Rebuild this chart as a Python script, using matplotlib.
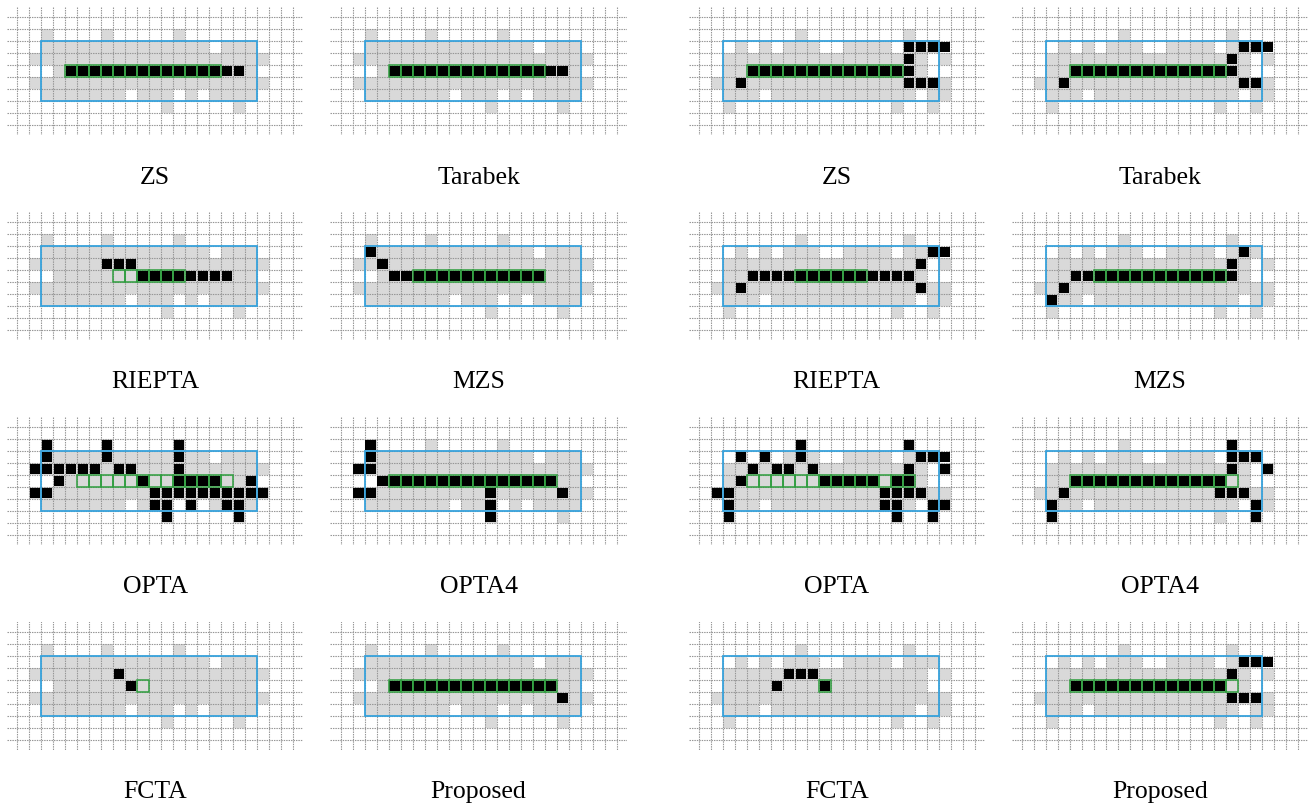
import matplotlib
matplotlib.use("Agg")
import matplotlib.pyplot as plt
from matplotlib.patches import Rectangle

W, H, DPI = 1310, 805, 100

# panel order: (row, col) in the 4x4 figure
methods = ["ZS", "Tarabek", "RIEPTA", "MZS", "OPTA", "OPTA4", "FCTA", "Proposed"]

# gray region masks (rows 0..8, cols 0..22)
gray_left = [
    ".......................",
    "..#....#.....#.........",
    "..##############.###...",
    ".####################..",
    "...#################...",
    ".####################..",
    "..#######.###.#.####...",
    "............#.....#....",
    ".......................",
]
gray_right = [
    ".......................",
    "........#........#.....",
    "...#.#.###..####.###...",
    "..#################.#..",
    "..#################....",
    ".####################..",
    "..###.############.##..",
    "..#.............#..#...",
    ".......................",
]

# result pixels: B = black, G = black + green outline, g = green outline only
res_left = {
    "ZS": {4: "....GGGGGGGGGGGGGBB...."},
    "Tarabek": {4: "....GGGGGGGGGGGGGBB...."},
    "RIEPTA": {3: ".......BBB.............",
               4: "........ggGGGGBBBB....."},
    "MZS": {2: "..B....................",
            3: "...B...................",
            4: "....BBGGGGGGGGGGG......"},
    "OPTA": {1: "..B....B.....B.........",
             2: "..B....B.....B.........",
             3: ".BBBBBB.BB...B.........",
             4: "...B.gggggGggGGGGg.B...",
             5: ".BB........BBBBBBBBBB..",
             6: "...........BB.B..BB....",
             7: "............B.....B...."},
    "OPTA4": {1: "..B....................",
              2: "..B....................",
              3: ".BB....................",
              4: "...BGGGGGGGGGGGGGG.....",
              5: ".BB.........B.....B....",
              6: "............B..........",
              7: "............B.........."},
    "FCTA": {3: "........B..............",
             4: ".........Bg............"},
    "Proposed": {4: "....GGGGGGGGGGGGGG.....",
                 5: "..................B...."},
}
res_right = {
    "ZS": {2: ".................BBBB..",
           3: ".................B.....",
           4: "....GGGGGGGGGGGGGB.....",
           5: "...B.............BBB..."},
    "Tarabek": {2: "..................BBB..",
                3: ".................B.....",
                4: "....GGGGGGGGGGGGGB.....",
                5: "...B..............BB..."},
    "RIEPTA": {2: "...................BB..",
               3: "..................B....",
               4: "....BBBBGGGGGGBBBB.....",
               5: "...B..............B...."},
    "MZS": {2: "..................B....",
            3: ".................B.....",
            4: "....BBGGGGGGGGGGGB.....",
            5: "...B...................",
            6: "..B...................."},
    "OPTA": {1: "........B........B.....",
             2: "...B.B..B.........BBB..",
             3: "....B.BB.B.......B..B..",
             4: "...BggggggGGGGGgGG.....",
             5: ".BB............BBBB....",
             6: "..B............BB..BB..",
             7: "..B.............B..B..."},
    "OPTA4": {1: ".................B.....",
              2: ".................BBB...",
              3: ".................B..B..",
              4: "....GGGGGGGGGGGGGg.....",
              5: "...B............BBB....",
              6: "..B................B...",
              7: "..B................B..."},
    "FCTA": {3: ".......BBB.............",
             4: "......B...G............"},
    "Proposed": {2: "..................BBB..",
                 3: ".................B.....",
                 4: "....GGGGGGGGGGGGGg.....",
                 5: ".................BBB..."},
}

GRAY = "#d9d9d9"
GRID = "#969696"
BLUE = "#36a2dc"
GREEN = "#2e9e3e"
CELL = 12.0
EXT = 0.85

col_x0 = [17.3, 340.6, 698.7, 1022.0]      # pixel x of grid line 0 for each panel column
row_y0 = [17.3, 222.1, 426.9, 631.7]        # pixel y of grid line 0 for each panel row

plt.rcParams["font.family"] = ["Liberation Serif", "DejaVu Serif"]
fig = plt.figure(figsize=(W / DPI, H / DPI), dpi=DPI)
fig.patch.set_facecolor("white")


def draw_panel(ax, gray, marks, label):
    ax.set_xlim(-EXT, 23 + EXT)
    ax.set_ylim(9 + EXT, -EXT)
    ax.axis("off")
    for r, row in enumerate(gray):
        for c, ch in enumerate(row):
            if ch == "#":
                ax.add_patch(Rectangle((c, r), 1, 1, fc=GRAY, ec="none", zorder=1))
    ax.vlines(range(24), -EXT, 9 + EXT, colors=GRID, linestyles=[(0, (1.3, 0.9))],
              lw=0.8, zorder=2)
    ax.hlines(range(10), -EXT, 23 + EXT, colors=GRID, linestyles=[(0, (1.3, 0.9))],
              lw=0.8, zorder=2)
    ins = 0.07
    for r, row in marks.items():
        for c, ch in enumerate(row):
            if ch in "BG":
                ax.add_patch(Rectangle((c + ins, r + ins), 1 - 2 * ins, 1 - 2 * ins,
                                       fc="black", ec="none", zorder=3))
            if ch in "Gg":
                ax.add_patch(Rectangle((c, r), 1, 1, fill=False, ec=GREEN, lw=1.1,
                                       zorder=4))
    ax.add_patch(Rectangle((2, 2), 18, 5, fill=False, ec=BLUE, lw=1.3, zorder=5))
    ax.text(11.5, 13.35, label, ha="center", va="center", fontsize=18.5,
            color="black", clip_on=False)


for gi, (gray, res) in enumerate([(gray_left, res_left), (gray_right, res_right)]):
    for mi, m in enumerate(methods):
        prow = mi // 2
        pcol = gi * 2 + mi % 2
        left = col_x0[pcol] - EXT * CELL
        top = row_y0[prow] - EXT * CELL
        w = (23 + 2 * EXT) * CELL
        h = (9 + 2 * EXT) * CELL
        ax = fig.add_axes([left / W, (H - top - h) / H, w / W, h / H])
        draw_panel(ax, gray, res[m], m)

fig.savefig("out.png", dpi=DPI, facecolor="white")
